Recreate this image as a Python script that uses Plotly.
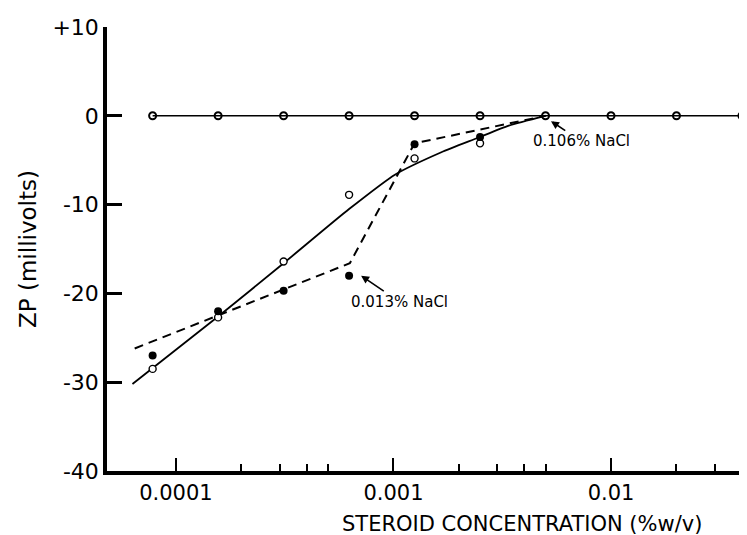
import math
import plotly.graph_objects as go

# ---- data ----
conc = [7.8125e-5, 1.5625e-4, 3.125e-4, 6.25e-4, 1.25e-3, 2.5e-3, 5e-3, 1e-2, 2e-2, 4e-2]
zp_0106 = [0, 0, 0, 0, 0, 0, 0, 0, 0, 0]

conc_low = [7.8125e-5, 1.5625e-4, 3.125e-4, 6.25e-4, 1.25e-3, 2.5e-3]
zp_0013 = [-27.0, -22.0, -19.7, -18.0, -3.2, -2.4]
zp_open = [-28.5, -22.7, -16.4, -8.9, -4.8, -3.1]

fit_open_x = [6.31e-5, 1.5625e-4, 3.125e-4, 6.25e-4, 1.02e-3, 1.66e-3, 2.43e-3, 3.39e-3, 5e-3]
fit_open_y = [-30.2, -22.6, -16.6, -10.5, -6.6, -4.1, -2.5, -1.1, 0.0]
fit_0013_x = [6.46e-5, 6.3e-4, 1.25e-3, 5e-3]
fit_0013_y = [-26.2, -16.6, -3.1, 0.0]

x_tickvals = [1e-4, 1e-3, 1e-2]
x_ticktext = ["0.0001", "0.001", "0.01"]
x_minorvals = [2e-4, 3e-4, 4e-4, 5e-4, 2e-3, 3e-3, 4e-3, 5e-3, 2e-2, 3e-2, 4e-2]
y_tickvals = [10, 0, -10, -20, -30, -40]
y_ticktext = ["+10", "0", "-10", "-20", "-30", "-40"]

# label anchor points (concentration, ZP) that the arrows point to
label_0013_at = (7.1e-4, -18.0)
label_0106_at = (5.3e-3, -0.6)

FONT = "DejaVu Sans"
INK = "black"

fig = go.Figure()

# fitted curves
fig.add_trace(go.Scatter(x=fit_open_x, y=fit_open_y, mode="lines",
                         line=dict(color=INK, width=1.8, shape="spline", smoothing=0.6),
                         hoverinfo="skip", showlegend=False))
fig.add_trace(go.Scatter(x=fit_0013_x, y=fit_0013_y, mode="lines",
                         line=dict(color=INK, width=2, dash="9px,6px"),
                         hoverinfo="skip", showlegend=False))
# 0.106% NaCl
fig.add_trace(go.Scatter(x=conc, y=zp_0106, mode="lines+markers",
                         line=dict(color=INK, width=1.6),
                         marker=dict(symbol="circle-open", size=7, color=INK, line=dict(width=2)),
                         showlegend=False))
# open circles
fig.add_trace(go.Scatter(x=conc_low, y=zp_open, mode="markers",
                         marker=dict(symbol="circle", size=7, color="white", line=dict(color=INK, width=1.4)),
                         showlegend=False))
# 0.013% NaCl filled
fig.add_trace(go.Scatter(x=conc_low, y=zp_0013, mode="markers",
                         marker=dict(symbol="circle", size=8, color=INK, line=dict(width=0)),
                         showlegend=False))

fig.add_annotation(x=math.log10(label_0013_at[0]), y=label_0013_at[1], text="0.013% NaCl",
                   showarrow=True, ax=38, ay=26, arrowhead=2, arrowsize=1, arrowwidth=1.6,
                   arrowcolor=INK, font=dict(family=FONT, size=15, color=INK))
fig.add_annotation(x=math.log10(label_0106_at[0]), y=label_0106_at[1], text="0.106% NaCl",
                   showarrow=True, ax=30, ay=20, arrowhead=2, arrowsize=1, arrowwidth=1.6,
                   arrowcolor=INK, font=dict(family=FONT, size=15, color=INK))
# x-axis title (offset to the right as in the reference)
fig.add_annotation(xref="paper", yref="paper", x=0.64, y=-0.12, xanchor="center", yanchor="middle",
                   text="STEROID CONCENTRATION (%w/v)", showarrow=False,
                   font=dict(family=FONT, size=21, color=INK))

fig.update_layout(
    width=747, height=535,
    margin=dict(l=99, r=0, t=19, b=72),
    paper_bgcolor="white", plot_bgcolor="white",
    font=dict(family=FONT, color=INK),
    showlegend=False,
)
fig.update_xaxes(type="log", range=[-4.317, -1.338],
                 tickmode="array", tickvals=x_tickvals, ticktext=x_ticktext,
                 ticks="inside", ticklen=13, tickwidth=2, tickcolor=INK,
                 minor=dict(tickvals=x_minorvals, ticks="inside", ticklen=7, tickwidth=2, tickcolor=INK, showgrid=False),
                 showline=True, linewidth=3.5, linecolor=INK, showgrid=False, zeroline=False,
                 tickfont=dict(family=FONT, size=21, color=INK))
fig.update_yaxes(range=[-40, 10],
                 tickmode="array", tickvals=y_tickvals, ticktext=y_ticktext,
                 ticks="inside", ticklen=15, tickwidth=3, tickcolor=INK,
                 showline=True, linewidth=3.5, linecolor=INK, showgrid=False, zeroline=False,
                 tickfont=dict(family=FONT, size=22, color=INK),
                 title=dict(text="ZP (millivolts)", font=dict(family=FONT, size=23, color=INK), standoff=10))

fig.write_html("out.html")
